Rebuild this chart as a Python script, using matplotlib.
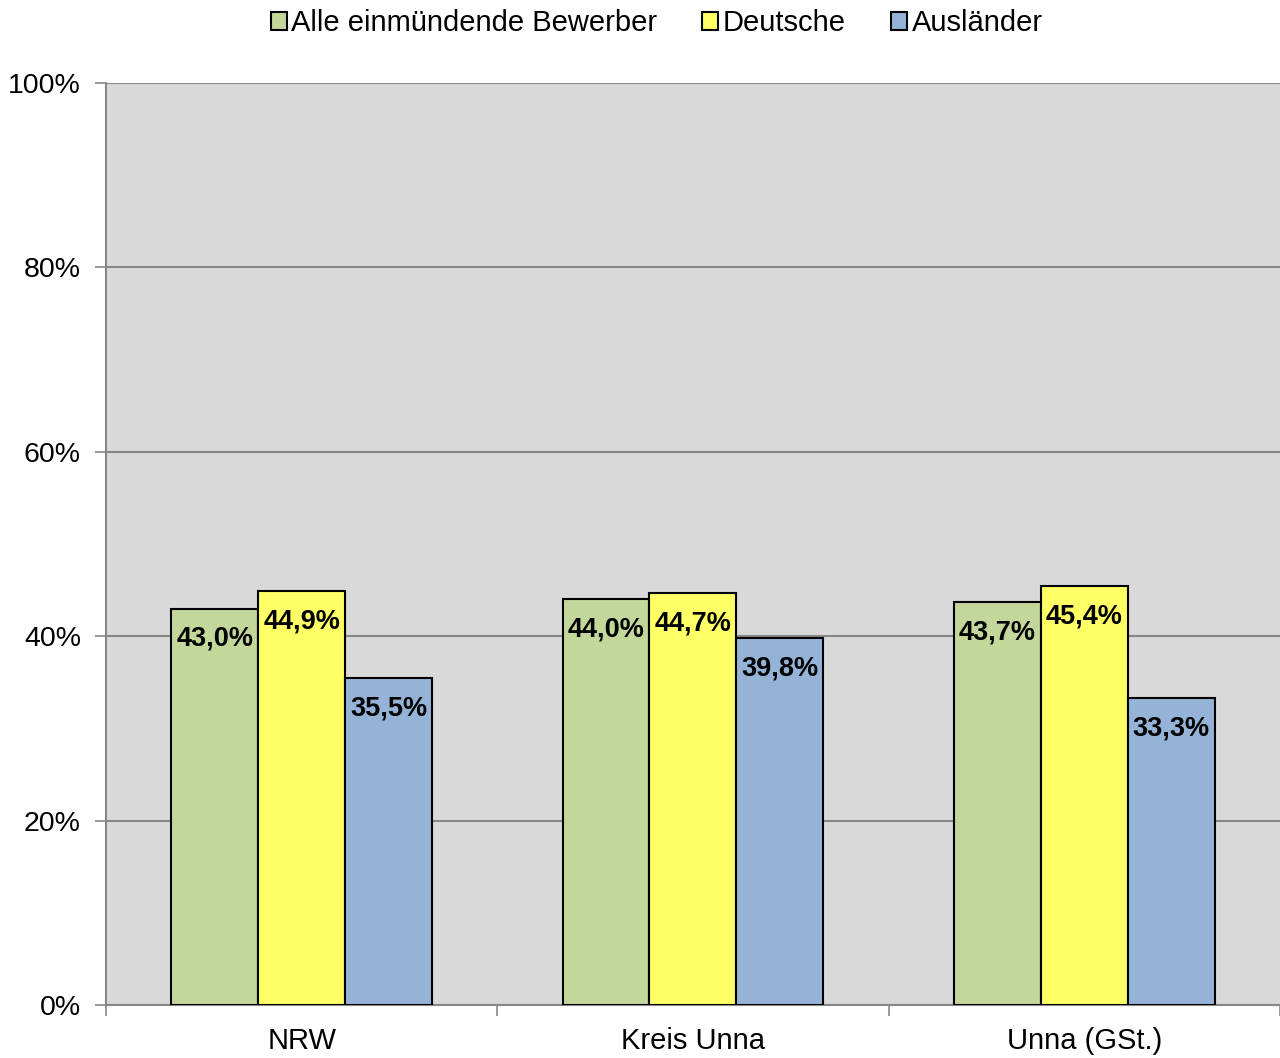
import matplotlib
matplotlib.use("Agg")
import matplotlib.pyplot as plt
import numpy as np

plt.rcParams['font.family'] = ['Liberation Sans', 'DejaVu Sans']

categories = ["NRW", "Kreis Unna", "Unna (GSt.)"]
series_names = ["Alle einmündende Bewerber", "Deutsche", "Ausländer"]
alle = [43.0, 44.0, 43.7]
deutsche = [44.9, 44.7, 45.4]
auslaender = [35.5, 39.8, 33.3]
colors = ["#C4D79B", "#FFFF66", "#95B3D7"]

fig = plt.figure(figsize=(12.8, 10.58), dpi=100)
ax = fig.add_axes([0.0828, 0.0501, 0.9172, 0.8715])
ax.set_facecolor("#D9D9D9")

x = np.arange(len(categories))
width = 0.2223
for i, (vals, name, col) in enumerate(zip([alle, deutsche, auslaender], series_names, colors)):
    pos = x + (i - 1) * width
    bars = ax.bar(pos, vals, width, color=col, edgecolor="black", linewidth=1.5, label=name, zorder=3)
    for b, v in zip(bars, vals):
        ax.annotate(f"{v:.1f}%".replace(".", ","), (b.get_x() + b.get_width() / 2, v),
                    xytext=(0, -12.5), textcoords="offset points", ha="center", va="top",
                    fontsize=19.5, fontweight="bold", zorder=4)

ax.set_xlim(-0.5, 2.5)
ax.set_ylim(0, 100)
ax.set_yticks(np.arange(0, 101, 20))
ax.set_yticklabels([f"{v}%" for v in range(0, 101, 20)], fontsize=20.5)
ax.yaxis.grid(True, color="#878787", linewidth=1.5, zorder=0)
ax.tick_params(axis="y", length=8, width=1.2, color="#878787", pad=10)

ax.set_xticks(x)
ax.set_xticklabels(categories, fontsize=21)
ax.set_xticks([-0.5, 0.5, 1.5, 2.5], minor=True)
ax.tick_params(axis="x", which="major", length=0, pad=16)
ax.tick_params(axis="x", which="minor", length=8, width=1.2, color="#878787")

for s in ["top", "right"]:
    ax.spines[s].set_visible(False)
for s in ["left", "bottom"]:
    ax.spines[s].set_color("#878787")
    ax.spines[s].set_linewidth(1.5)

fig.legend(loc="upper center", bbox_to_anchor=(0.513, 1.016), ncol=3, frameon=False,
           fontsize=21, handlelength=0.55, handleheight=0.55, handletextpad=0.15,
           columnspacing=1.55)

fig.savefig("out.png", dpi=100)
